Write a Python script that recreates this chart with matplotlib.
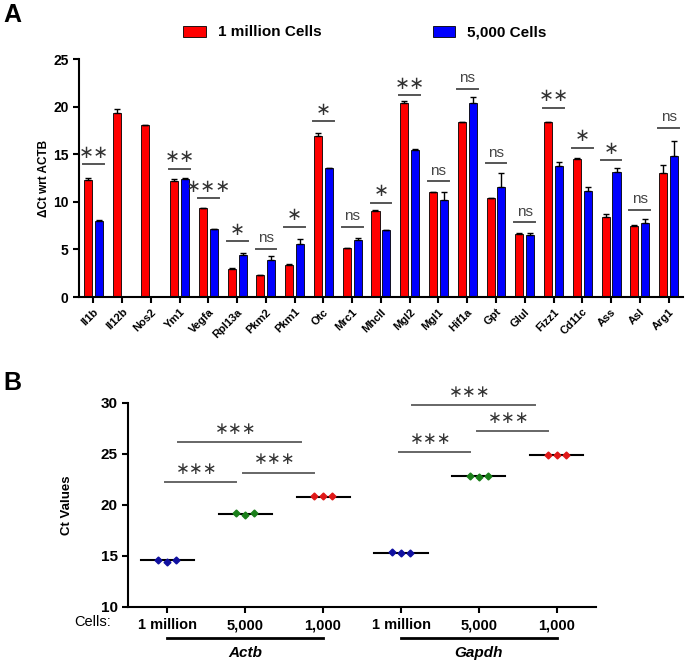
import numpy as np
import matplotlib
matplotlib.use('Agg')
import matplotlib.pyplot as plt
from matplotlib.patches import Patch
import matplotlib.transforms as mtransforms

plt.rcParams['font.family'] = ['Liberation Sans', 'DejaVu Sans']

# ---- Panel A data ----
genes = ['Il1b', 'Il12b', 'Nos2', 'Ym1', 'Vegfa', 'Rpl13a', 'Pkm2', 'Pkm1', 'Otc', 'Mrc1',
         'MhcII', 'Mgl2', 'Mgl1', 'Hif1a', 'Gpt', 'Glul', 'Fizz1', 'Cd11c', 'Ass', 'Asl', 'Arg1']
million_vals = [12.3, 19.4, 18.1, 12.2, 9.4, 2.9, 2.3, 3.4, 16.9, 5.2,
                9.05, 20.35, 11.0, 18.4, 10.45, 6.67, 18.4, 14.5, 8.4, 7.5, 13.05]
million_err = [0.2, 0.4, 0.0, 0.2, 0.0, 0.1, 0.0, 0.1, 0.35, 0.0,
               0.1, 0.25, 0.0, 0.05, 0.0, 0.05, 0.0, 0.1, 0.35, 0.1, 0.8]
k5_vals = [8.0, np.nan, np.nan, 12.4, 7.2, 4.4, 3.9, 5.6, 13.6, 6.0,
           7.0, 15.5, 10.25, 20.35, 11.6, 6.5, 13.8, 11.2, 13.15, 7.75, 14.85]
k5_err = [0.1, 0.0, 0.0, 0.1, 0.0, 0.25, 0.45, 0.45, 0.0, 0.2,
          0.05, 0.05, 0.8, 0.65, 1.45, 0.25, 0.45, 0.35, 0.45, 0.5, 1.55]
# significance marks: gene index, bracket height, label
sig_idx = [0, 3, 4, 5, 6, 7, 8, 9, 10, 11, 12, 13, 14, 15, 16, 17, 18, 19, 20]
sig_y = [14.0, 13.5, 10.4, 5.9, 5.1, 7.4, 18.5, 7.4, 9.9, 21.2, 12.2, 21.9, 14.1, 7.9, 19.9, 15.7, 14.4, 9.2, 17.8]
sig_lab = ['**', '**', '***', '*', 'ns', '*', '*', 'ns', '*', '**', 'ns', 'ns', 'ns', 'ns', '**', '*', '*', 'ns', 'ns']

# ---- Panel B data ----
groups = ['1 million', '5,000', '1,000', '1 million', '5,000', '1,000']
ct_points = [[14.6, 14.45, 14.6], [19.18, 18.99, 19.18], [20.85, 20.85, 20.85],
             [15.37, 15.31, 15.31], [22.83, 22.74, 22.83], [24.92, 24.92, 24.92]]
ct_median = [14.56, 19.12, 20.81, 15.31, 22.8, 24.85]
point_colors = ['#1010a0', '#1a7f1a', '#e01818', '#1010a0', '#1a7f1a', '#e01818']
# comparison brackets: start group, end group, height
cmp_start = [0, 1, 0, 3, 4, 3]
cmp_end = [1, 2, 2, 4, 5, 5]
cmp_y = [22.25, 23.16, 26.16, 25.15, 27.26, 29.77]
cmp_lab = ['***'] * 6

fig = plt.figure(figsize=(6.85, 6.63), dpi=100)


def star_text(s):
    return s.replace('*', '\u2217')


# ---------- Panel A ----------
ax = fig.add_axes([0.1153, 0.552, 0.8817, 0.3586])
x = np.arange(len(genes))
w = 0.28
off = 0.19
ax.bar(x - off, million_vals, w, color='#ff0000', edgecolor='black', linewidth=0.6, zorder=2)
ax.bar(x + off, k5_vals, w, color='#0000ff', edgecolor='black', linewidth=0.6, zorder=2)
mv = np.array(million_vals)
kv = np.array(k5_vals)
ax.errorbar(x - off, mv, yerr=[np.zeros(len(mv)), million_err], fmt='none',
            ecolor='black', elinewidth=1, capsize=2, capthick=1, zorder=3)
ok = ~np.isnan(kv)
ax.errorbar((x + off)[ok], kv[ok], yerr=[np.zeros(ok.sum()), np.array(k5_err)[ok]], fmt='none',
            ecolor='black', elinewidth=1, capsize=2, capthick=1, zorder=3)

for i, yv, lab in zip(sig_idx, sig_y, sig_lab):
    ax.plot([i - 0.36, i + 0.36], [yv, yv], color='#555555', lw=1.4, zorder=4)
    if lab == 'ns':
        ax.text(i, yv + 0.35, lab, ha='center', va='bottom', fontsize=11, color='#444444')
    else:
        ax.text(i, yv + 0.25, star_text(lab), ha='center', va='bottom', fontsize=13,
                color='#333333', family='DejaVu Sans')

ax.set_xlim(-0.5, 20.5)
ax.set_ylim(0, 25)
ax.set_yticks([0, 5, 10, 15, 20, 25])
ax.set_xticks(x)
ax.set_xticklabels(genes, rotation=45, ha='right', rotation_mode='anchor',
                   fontsize=8, fontweight='bold')
for lbl in ax.get_yticklabels():
    lbl.set_fontweight('bold')
    lbl.set_fontsize(10)
ax.tick_params(axis='both', direction='out', length=4, width=1.5, color='black')
ax.tick_params(axis='x', pad=3)
for s in ['top', 'right']:
    ax.spines[s].set_visible(False)
for s in ['left', 'bottom']:
    ax.spines[s].set_linewidth(1.5)
ax.set_ylabel('\u0394Ct wrt ACTB', fontsize=8.5, fontweight='bold', labelpad=2)

handles = [Patch(facecolor='#ff0000', edgecolor='black', linewidth=0.6, label='1 million Cells'),
           Patch(facecolor='#0000ff', edgecolor='black', linewidth=0.6, label='5,000 Cells')]
fig.legend(handles=handles, loc='center', bbox_to_anchor=(0.533, 0.951), ncol=2,
           frameon=False, prop={'weight': 'bold', 'size': 11}, handlelength=1.45,
           handleheight=0.75, handletextpad=0.8, columnspacing=7.3)

fig.text(0.005, 0.995, 'A', fontsize=18, fontweight='bold', va='top', ha='left')
fig.text(0.005, 0.44, 'B', fontsize=18, fontweight='bold', va='top', ha='left')

# ---------- Panel B ----------
bx = fig.add_axes([0.187, 0.0845, 0.683, 0.3081])
gx = np.arange(len(groups))
for i in gx:
    pts = ct_points[i]
    bx.plot(i + np.array([-0.115, 0.0, 0.115]), pts, linestyle='none', marker='D',
            markersize=3.5, color=point_colors[i], zorder=3)
    bx.plot([i - 0.34, i + 0.34], [ct_median[i], ct_median[i]], color='black', lw=1.5, zorder=2)

for a, b, yv, lab in zip(cmp_start, cmp_end, cmp_y, cmp_lab):
    mid = (a + b) / 2 - 0.07
    half = 0.13 + 0.33 * (b - a)
    bx.plot([mid - half, mid + half], [yv, yv], color='#666666', lw=1.4, clip_on=False)
    bx.text(mid - 0.05, yv + 0.4, star_text(lab), ha='center', va='bottom', fontsize=12,
            color='#333333', family='DejaVu Sans', clip_on=False)

bx.set_xlim(-0.5, 5.5)
bx.set_ylim(10, 30)
bx.set_yticks([10, 15, 20, 25, 30])
bx.set_xticks(gx)
bx.set_xticklabels(groups, fontsize=10.5, fontweight='bold')
for lbl in bx.get_yticklabels():
    lbl.set_fontweight('bold')
    lbl.set_fontsize(11)
bx.tick_params(axis='both', direction='out', length=4, width=1.5, color='black')
bx.tick_params(axis='x', pad=4)
for s in ['top', 'right']:
    bx.spines[s].set_visible(False)
for s in ['left', 'bottom']:
    bx.spines[s].set_linewidth(1.5)
bx.set_ylabel('Ct Values', fontsize=9.5, fontweight='bold', labelpad=20)

trans = mtransforms.blended_transform_factory(bx.transData, bx.transAxes)
bx.text(-0.96, -0.075, 'Cells:', transform=trans, ha='center', va='center', fontsize=10.5)
for x0, x1, name in [(0, 2, 'Actb'), (3, 5, 'Gapdh')]:
    bx.plot([x0, x1], [-0.15, -0.15], color='black', lw=2, transform=trans, clip_on=False)
    bx.text((x0 + x1) / 2, -0.225, name, transform=trans, ha='center', va='center',
            fontsize=11, fontweight='bold', style='italic')

fig.savefig('out.png', dpi=100)
